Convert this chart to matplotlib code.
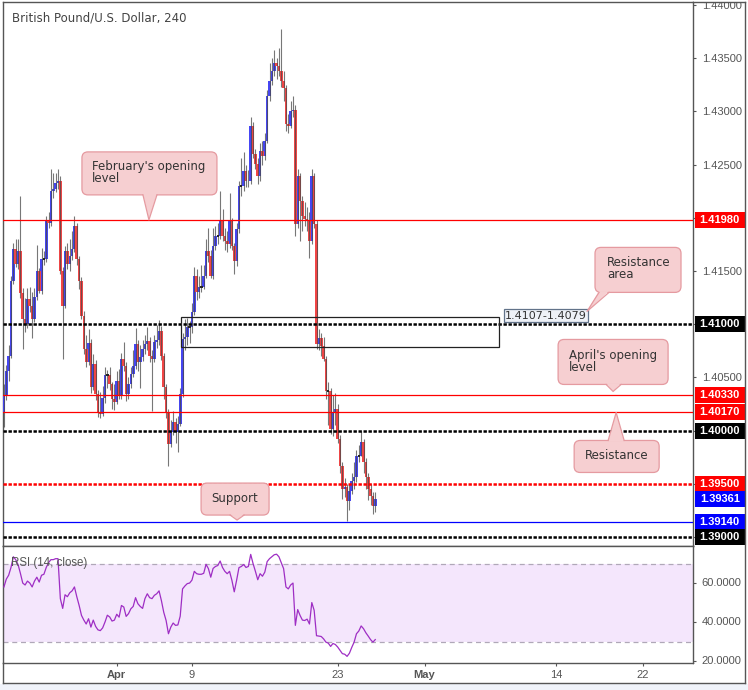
import numpy as np
import matplotlib
matplotlib.use("Agg")
import matplotlib.pyplot as plt
from matplotlib.patches import Rectangle, FancyBboxPatch, Polygon
from matplotlib.transforms import blended_transform_factory

plt.rcParams['font.family'] = ['Liberation Sans', 'DejaVu Sans']

# ---------------- data (4h GBP/USD candles) ----------------
first_open = 1.40179
close = [
    1.40329, 1.40564, 1.40705, 1.41410, 1.41711, 1.41570, 1.41692, 1.41297, 1.41053, 1.41006,
    1.41241, 1.41175, 1.41053, 1.41260, 1.41495, 1.41316, 1.41617, 1.41617, 1.41974, 1.41955,
    1.42247, 1.42275, 1.42331, 1.42341, 1.41504, 1.41175, 1.41692, 1.41570, 1.41636, 1.41711,
    1.41918, 1.41617, 1.41410, 1.41081, 1.40771, 1.40649, 1.40827, 1.40414, 1.40630, 1.40348,
    1.40179, 1.40160, 1.40310, 1.40526, 1.40526, 1.40442, 1.40301, 1.40273, 1.40470, 1.40329,
    1.40677, 1.40611, 1.40348, 1.40442, 1.40536, 1.40611, 1.40818, 1.40649, 1.40696, 1.40771,
    1.40818, 1.40846, 1.40705, 1.40677, 1.40837, 1.40850, 1.40940, 1.40705, 1.40414, 1.40179,
    1.39878, 1.39991, 1.40085, 1.39991, 1.40066, 1.40348, 1.40865, 1.40884, 1.40978, 1.40978,
    1.41119, 1.41457, 1.41307, 1.41354, 1.41354, 1.41457, 1.41683, 1.41636, 1.41457, 1.41739,
    1.41824, 1.41824, 1.41965, 1.41824, 1.41777, 1.41758, 1.41965, 1.41739, 1.41589, 1.41899,
    1.42294, 1.42294, 1.42435, 1.42341, 1.42350, 1.42858, 1.42604, 1.42510, 1.42388, 1.42632,
    1.42576, 1.42726, 1.43140, 1.43281, 1.43375, 1.43450, 1.43422, 1.43375, 1.43290, 1.43215,
    1.42886, 1.42867, 1.42999, 1.43017, 1.41946, 1.42397, 1.42153, 1.42012, 1.41993, 1.41974,
    1.41786, 1.42397, 1.41946, 1.40818, 1.40874, 1.40799, 1.40677, 1.40376, 1.40376, 1.40019,
    1.40179, 1.40207, 1.39925, 1.39671, 1.39455, 1.39474, 1.39342, 1.39436, 1.39530, 1.39568,
    1.39765, 1.39765, 1.39897, 1.39709, 1.39568, 1.39455, 1.39389, 1.39295, 1.39361]
high = [
    1.40442, 1.40620, 1.40800, 1.41450, 1.41760, 1.41800, 1.41800, 1.42200, 1.41340, 1.41250,
    1.41340, 1.41350, 1.41300, 1.41340, 1.41740, 1.41530, 1.41720, 1.41690, 1.42020, 1.42050,
    1.42463, 1.42420, 1.42420, 1.42463, 1.42390, 1.41540, 1.41730, 1.41760, 1.41800, 1.41880,
    1.42020, 1.41950, 1.41640, 1.41440, 1.41120, 1.40900, 1.40950, 1.40860, 1.40720, 1.40660,
    1.40380, 1.40360, 1.40420, 1.40600, 1.40570, 1.40600, 1.40460, 1.40440, 1.40560, 1.40580,
    1.40730, 1.40830, 1.40640, 1.40500, 1.40600, 1.40760, 1.40960, 1.40850, 1.40800, 1.40850,
    1.40900, 1.40970, 1.40880, 1.40760, 1.40900, 1.40990, 1.41040, 1.40980, 1.40730, 1.40440,
    1.40200, 1.40100, 1.40180, 1.40120, 1.40140, 1.40400, 1.40920, 1.41050, 1.41060, 1.41030,
    1.41200, 1.41540, 1.41520, 1.41450, 1.41560, 1.41560, 1.41800, 1.41900, 1.41700, 1.41900,
    1.41920, 1.41950, 1.42250, 1.42080, 1.41900, 1.41880, 1.42230, 1.42000, 1.41760, 1.41950,
    1.42350, 1.42560, 1.42620, 1.42500, 1.42450, 1.42950, 1.42900, 1.42650, 1.42560, 1.42700,
    1.42720, 1.42800, 1.43200, 1.43450, 1.43500, 1.43580, 1.43500, 1.43600, 1.43770, 1.43380,
    1.43250, 1.42980, 1.43100, 1.43140, 1.43060, 1.42460, 1.42420, 1.42200, 1.42150, 1.42100,
    1.42050, 1.42460, 1.42420, 1.41980, 1.40950, 1.40920, 1.40880, 1.40700, 1.40460, 1.40400,
    1.40330, 1.40350, 1.40250, 1.39960, 1.39700, 1.39550, 1.39500, 1.39500, 1.39600, 1.39700,
    1.39820, 1.39860, 1.40000, 1.39920, 1.39740, 1.39600, 1.39500, 1.39420, 1.39420]
low = [
    1.40038, 1.40290, 1.40470, 1.40680, 1.41380, 1.41540, 1.41520, 1.41250, 1.40771, 1.40930,
    1.40960, 1.41110, 1.40870, 1.41020, 1.41230, 1.41290, 1.41280, 1.41560, 1.41580, 1.41900,
    1.41920, 1.42190, 1.42240, 1.42270, 1.41470, 1.40677, 1.41150, 1.41520, 1.41500, 1.41600,
    1.41680, 1.41560, 1.41330, 1.41050, 1.40720, 1.40600, 1.40620, 1.40350, 1.40380, 1.40290,
    1.40130, 1.40120, 1.40140, 1.40260, 1.40400, 1.40380, 1.40200, 1.40190, 1.40250, 1.40300,
    1.40300, 1.40560, 1.40280, 1.40300, 1.40400, 1.40500, 1.40580, 1.40560, 1.40400, 1.40650,
    1.40720, 1.40760, 1.40640, 1.40180, 1.40640, 1.40780, 1.40800, 1.40660, 1.40300, 1.40120,
    1.39671, 1.39850, 1.39960, 1.39880, 1.39800, 1.40040, 1.40320, 1.40760, 1.40800, 1.40820,
    1.40920, 1.41090, 1.41230, 1.41250, 1.41300, 1.41330, 1.41430, 1.41580, 1.41430, 1.41420,
    1.41700, 1.41750, 1.41800, 1.41780, 1.41700, 1.41680, 1.41720, 1.41700, 1.41470, 1.41550,
    1.41860, 1.42200, 1.42250, 1.42290, 1.42290, 1.42320, 1.42560, 1.42460, 1.42320, 1.42350,
    1.42500, 1.42540, 1.42700, 1.43100, 1.43250, 1.43330, 1.43300, 1.43330, 1.43230, 1.43100,
    1.42820, 1.42800, 1.42840, 1.42950, 1.41830, 1.41900, 1.41780, 1.41880, 1.41920, 1.41880,
    1.41620, 1.41750, 1.41900, 1.40770, 1.40760, 1.40700, 1.40650, 1.40300, 1.40050, 1.39970,
    1.39950, 1.40050, 1.39880, 1.39600, 1.39360, 1.39380, 1.39150, 1.39250, 1.39400, 1.39450,
    1.39520, 1.39700, 1.39760, 1.39600, 1.39450, 1.39350, 1.39300, 1.39220, 1.39230]
rsi = [
    58.0, 62.0, 64.0, 68.0, 73.5, 72.0, 69.5, 65.0, 60.0, 59.0,
    61.0, 60.0, 58.0, 61.0, 63.0, 60.5, 64.0, 64.5, 68.0, 70.5,
    72.0, 72.0, 72.5, 72.5, 52.0, 47.0, 54.0, 53.0, 55.0, 56.0,
    58.0, 53.0, 48.5, 43.4, 41.0, 39.0, 41.7, 37.4, 41.0, 37.8,
    36.0, 35.6, 37.0, 40.0, 43.5, 42.6, 40.5, 41.0, 44.0, 42.5,
    48.5, 47.7, 42.9, 44.3, 46.8, 48.0, 52.5, 49.4, 48.0, 47.0,
    52.0, 54.5, 52.5, 52.0, 53.7, 54.5, 56.0, 51.0, 45.0, 40.8,
    34.0, 37.4, 39.5, 38.3, 38.5, 43.0, 57.0, 58.5, 59.7, 60.0,
    61.5, 66.0, 64.8, 64.5, 64.5, 65.0, 69.6, 67.4, 63.0, 67.5,
    68.5, 69.0, 71.3, 68.0, 66.0, 64.8, 66.0, 61.4, 55.5, 61.4,
    67.9, 68.5, 69.5, 68.0, 68.5, 74.7, 70.0, 66.0, 61.7, 64.8,
    63.5, 65.6, 71.0, 72.5, 73.5, 74.5, 74.8, 73.5, 70.5, 67.4,
    58.0, 57.0, 59.0, 60.0, 38.3, 46.4, 43.4, 41.0, 40.8, 41.5,
    39.0, 50.0, 46.0, 33.0, 32.8, 32.6, 31.4, 29.7, 29.2, 27.5,
    29.0, 28.5, 27.2, 25.5, 23.8, 23.5, 22.4, 24.0, 27.0, 29.7,
    34.0, 35.4, 38.0, 36.6, 34.5, 32.8, 31.0, 29.7, 31.0]

levels = [1.4198, 1.4100, 1.4033, 1.4017, 1.4000, 1.3950, 1.3914, 1.3900]
level_colors = ['#ff0000', '#000000', '#ff0000', '#ff0000', '#000000', '#ff0000', '#0000ff', '#000000']
level_dashed = [False, True, False, False, True, True, False, True]
last_price = 1.39361
last_color = '#0000ff'

zone_low, zone_high = 1.4079, 1.4107
zone_start, zone_end = 75.3, 210.7
zone_label = "1.4107-1.4079"

price_ticks = [1.390, 1.395, 1.400, 1.405, 1.410, 1.415, 1.420, 1.425, 1.430, 1.435, 1.440]
rsi_ticks = [20, 40, 60]
rsi_upper, rsi_lower = 70, 30

xtick_pos = [48, 80, 142, 179, 235, 272]
xtick_labels = ['Apr', '9', '23', 'May', '14', '22']
xtick_bold = [True, False, False, True, False, False]

callouts = [
    # text, anchor (bar, price), anchor px offset, box rel (l,t,r,b), pointer base rel, edge, text rel, ha
    ("February's opening\nlevel", (61.7, 1.4198), (0, 0), (-67, -68, 68, -25), (-6, 8), 'bottom', (-57, -47), 'left'),
    ("Resistance\narea", (248.1, 1.4112), (0, 0), (8, -64, 94, -19), (12, 22), 'bottom', (20, -42.5), 'left'),
    ("April's opening\nlevel", (259.2, 1.4033), (0, -4), (-55, -52, 55, -7), (-7, 8), 'bottom', (-44, -30), 'left'),
    ("Resistance", (260.5, 1.4017), (0, 0), (-42, 28, 43, 60), (-8, 8), 'top', (1, 43), 'center'),
    ("Support", (99.2, 1.3914), (0, -2), (-36, -37, 32, -5), (-7, 7), 'bottom', (-2, -22), 'center'),
]

title = "British Pound/U.S. Dollar, 240"

# ---------------- layout ----------------
W, H = 748, 690
fig = plt.figure(figsize=(W / 100, H / 100), dpi=100, facecolor='white')
L, R = 3, 693
T_main, B_main, B_rsi = 2, 546, 663
FRAME = '#555555'
TXT = '#555555'

ax = fig.add_axes([L / W, 1 - B_main / H, (R - L) / W, (B_main - T_main) / H])
ax2 = fig.add_axes([L / W, 1 - B_rsi / H, (R - L) / W, (B_rsi - B_main) / H], sharex=ax)

ax.set_xlim(-0.4, 293.2)
ax.set_ylim(1.38915, 1.44028)
ax2.set_ylim(19.0, 79.0)

for a in (ax, ax2):
    for s in a.spines.values():
        s.set_color(FRAME)
        s.set_linewidth(1.0)

# ---------------- candles ----------------
c = np.array(close)
h = np.array(high)
l = np.array(low)
o = np.concatenate([[first_open], c[:-1]])
idx = np.arange(len(c))
up = c > o
dn = c < o
flat = ~(up | dn)
ax.bar(idx[up], (c - o)[up], bottom=o[up], width=1.12, color='#4646f4', linewidth=0, zorder=3)
ax.bar(idx[dn], (o - c)[dn], bottom=c[dn], width=1.12, color='#f44646', linewidth=0, zorder=3)
ax.vlines(idx, l, h, color='#4a4a4a', lw=0.8, alpha=0.75, zorder=3.5)
ax.hlines(c[flat], idx[flat] - 0.5, idx[flat] + 0.5, color='#222222', lw=1.4, zorder=3.6)

# ---------------- horizontal levels ----------------
for lvl, col, dsh in zip(levels, level_colors, level_dashed):
    if dsh:
        ax.axhline(lvl, color=col, lw=1.8, dashes=(1.35, 0.65), zorder=4)
    else:
        ax.axhline(lvl, color=col, lw=0.9, zorder=4)

# resistance zone
ax.add_patch(Rectangle((zone_start, zone_low), zone_end - zone_start, zone_high - zone_low,
                       fill=False, ec='#222222', lw=0.9, zorder=5))
ax.annotate(zone_label, xy=(zone_end, zone_high), xytext=(6, 1), textcoords='offset pixels',
            ha='left', va='center', fontsize=8, family='DejaVu Sans', color='#333333',
            bbox=dict(boxstyle='square,pad=0.12', fc='#eef1f7', ec='#62738a', lw=0.9), zorder=6)

# ---------------- right price axis ----------------
ax.yaxis.tick_right()
ax.set_yticks(price_ticks)
label_levels = levels + [last_price]
px_per_price = ax.bbox.height / (ax.get_ylim()[1] - ax.get_ylim()[0])
tick_texts = []
for t in price_ticks:
    covered = any(abs(t - lv) * px_per_price < 14 for lv in label_levels)
    tick_texts.append('' if covered else f'{t:.5f}')
ax.set_yticklabels(tick_texts)
ax.tick_params(axis='y', direction='out', length=2.5, width=0.8, color=FRAME,
               labelcolor=TXT, labelsize=8, pad=4)
ax.tick_params(axis='x', bottom=False, labelbottom=False, top=False)

trans_y = blended_transform_factory(ax.transAxes, ax.transData)
bh = 16 / px_per_price
bx0 = (694.5 - L) / (R - L)
bx1 = (745 - L) / (R - L)
for lvl, col in list(zip(levels, level_colors)) + [(last_price, last_color)]:
    ax.add_patch(Rectangle((bx0, lvl - bh / 2), bx1 - bx0, bh, transform=trans_y,
                           fc=col, ec='none', clip_on=False, zorder=10))
    ax.text((bx0 + bx1) / 2, lvl, f'{lvl:.5f}', transform=trans_y, ha='center', va='center',
            color='white', fontsize=8, fontweight='bold', clip_on=False, zorder=11)

# ---------------- RSI panel ----------------
ax2.axhspan(rsi_lower, rsi_upper, color='#f4e6fc', lw=0, zorder=0)
ax2.axhline(rsi_upper, color='#b0a8b8', lw=0.9, dashes=(4, 3), zorder=1)
ax2.axhline(rsi_lower, color='#b0a8b8', lw=0.9, dashes=(4, 3), zorder=1)
ax2.plot(idx, rsi, color='#9e2ec4', lw=0.9, zorder=3)
ax2.text((11 - L) / (R - L), 0.855, 'RSI (14, close)', transform=ax2.transAxes,
         fontsize=8.3, color=TXT, va='center', ha='left', zorder=5)

ax2.yaxis.tick_right()
ax2.set_yticks(rsi_ticks)
ax2.set_yticklabels([])
ax2.tick_params(axis='y', direction='out', length=2.5, width=0.8, color=FRAME)
for v in rsi_ticks:
    ax2.text(1 + (701.5 - R) / (R - L), v, f'{v:.4f}', transform=ax2.get_yaxis_transform(),
             ha='left', va='center', fontsize=8, color=TXT, clip_on=False)

ax2.set_xticks(xtick_pos)
ax2.set_xticklabels(xtick_labels)
ax2.tick_params(axis='x', direction='out', length=2.5, width=0.8, color=FRAME,
                labelcolor=TXT, labelsize=8, pad=2.5)
for lab, b in zip(ax2.get_xticklabels(), xtick_bold):
    if b:
        lab.set_fontweight('bold')

# ---------------- overlay (frame, callouts) ----------------
ov = fig.add_axes([0, 0, 1, 1])
ov.set_zorder(10)
ov.set_xlim(0, W)
ov.set_ylim(H, 0)
ov.axis('off')
ov.patch.set_alpha(0)

ov.add_patch(Rectangle((R + 0.6, B_rsi + 1), 745 - R - 1, 683 - B_rsi - 1.5, fc='white', ec='none'))
ov.add_patch(Rectangle((R + 0.6, 0), W - R, T_main, fc='white', ec='none'))
ov.add_patch(Rectangle((0, 683.5), W, H - 683.5, fc='#f0f3fa', ec='none'))
ov.plot([R, 745], [T_main, T_main], color=FRAME, lw=1.0)
ov.plot([745, 745], [T_main, 683], color=FRAME, lw=1.0)
ov.plot([L, 745], [683, 683], color=FRAME, lw=1.0)
ov.plot([L, L], [B_rsi, 683], color=FRAME, lw=1.0)

CFC, CEC = '#f6cfd1', '#e59aa0'
for text, anchor, off, box, base, edge, trel, ha in callouts:
    dx, dy = ax.transData.transform(anchor)
    tx, ty = dx + off[0], (H - dy) + off[1]
    bl, bt, br, bb = box
    ov.add_patch(FancyBboxPatch((tx + bl, ty + bt), br - bl, bb - bt,
                                boxstyle='round,pad=0,rounding_size=6',
                                fc=CFC, ec=CEC, lw=0.9))
    ey = ty + (bb if edge == 'bottom' else bt)
    inset = -1.3 if edge == 'bottom' else 1.3
    x0, x1 = tx + base[0], tx + base[1]
    ov.add_patch(Polygon([(x0, ey + inset), (tx, ty), (x1, ey + inset)], closed=True,
                         fc=CFC, ec='none'))
    ov.plot([x0, tx, x1], [ey, ty, ey], color=CEC, lw=0.9)
    ov.text(tx + trel[0], ty + trel[1], text, ha=ha, va='center', fontsize=8.5,
            family='DejaVu Sans', color='#333333', linespacing=0.92)

fig.text(12 / W, 1 - 18 / H, title, fontsize=8.5, family='DejaVu Sans', color='#444444',
         va='center', ha='left')

fig.savefig('out.png', dpi=100, facecolor='white')
